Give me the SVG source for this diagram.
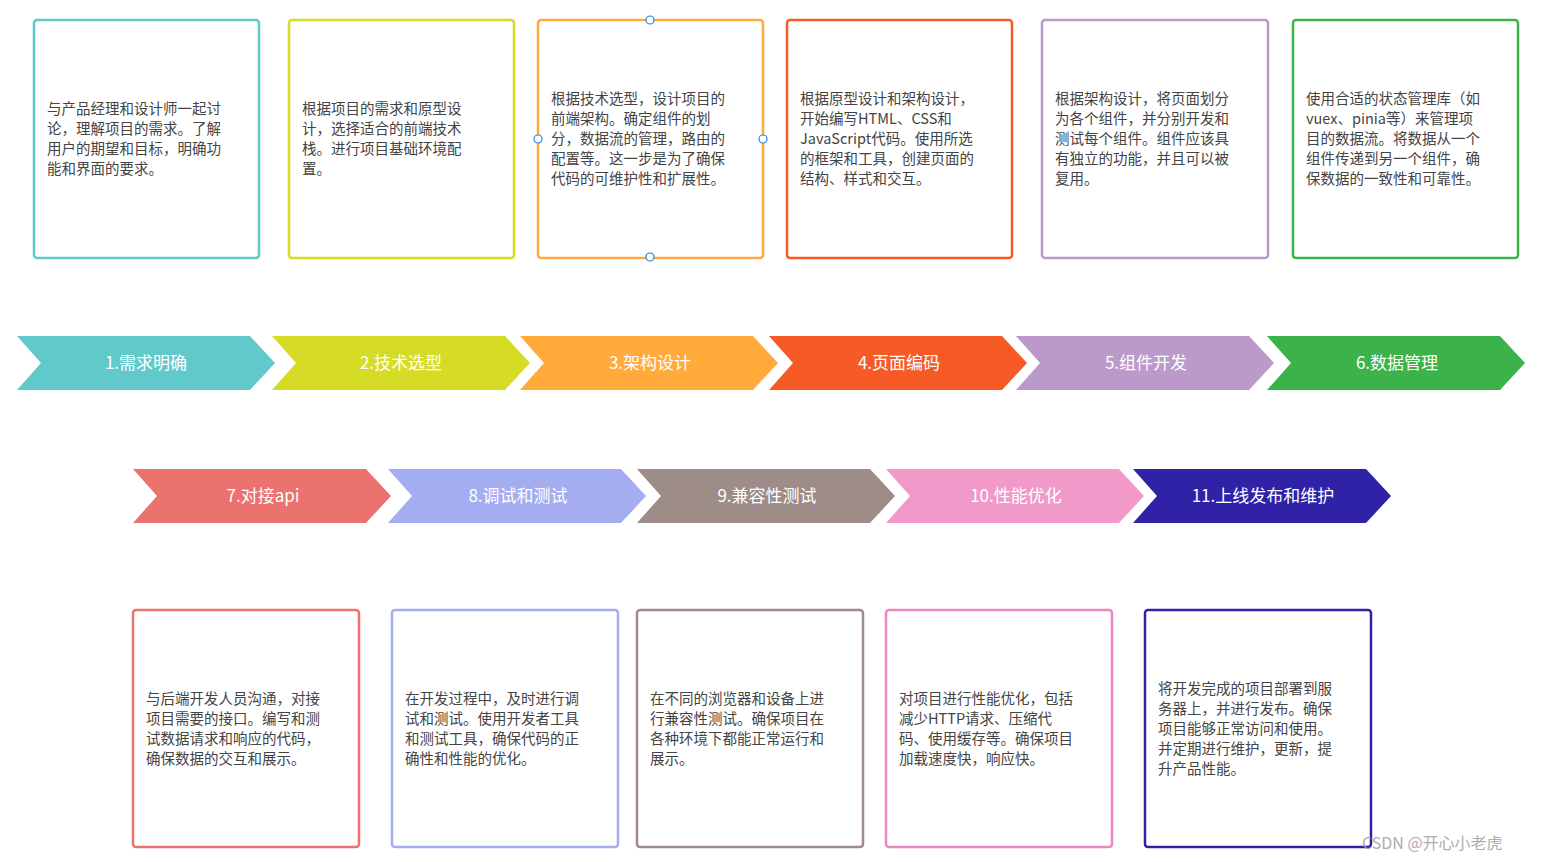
<svg xmlns="http://www.w3.org/2000/svg" width="1547" height="862" viewBox="0 0 1547 862">
<style>
.box{fill:#fff;stroke-width:2.5}
.t{font-family:"Noto Sans CJK SC","Liberation Sans",sans-serif;font-size:14.5px;fill:#444}
.c{font-family:"Noto Sans CJK SC","Liberation Sans",sans-serif;font-size:17px;fill:#fff;text-anchor:middle}
.h{fill:#fff;stroke:#1e88e5;stroke-width:1.2}
</style>
<defs><path id="chev" d="M0,0 H233 L258,27 L233,54 H0 L24,27 Z"/></defs>
<rect width="1547" height="862" fill="#fff"/>
<g id="connectors"></g>
<g id="chevrons">
<g id="s1"><use href="#chev" x="17" y="336" fill="#62C9CB"/><text class="c" x="146" y="369">1.需求明确</text></g>
<g id="s2"><use href="#chev" x="272" y="336" fill="#D6DC26"/><text class="c" x="401" y="369">2.技术选型</text></g>
<g id="s3"><use href="#chev" x="520" y="336" fill="#FFAA3A"/><text class="c" x="650" y="369">3.架构设计</text></g>
<g id="s4"><use href="#chev" x="769" y="336" fill="#F65A25"/><text class="c" x="899" y="369">4.页面编码</text></g>
<g id="s5"><use href="#chev" x="1016" y="336" fill="#BB9ACA"/><text class="c" x="1146" y="369">5.组件开发</text></g>
<g id="s6"><use href="#chev" x="1267" y="336" fill="#3CB24A"/><text class="c" x="1397" y="369">6.数据管理</text></g>
<g id="s7"><use href="#chev" x="133" y="469" fill="#EC7270"/><text class="c" x="263" y="502">7.对接api</text></g>
<g id="s8"><use href="#chev" x="388" y="469" fill="#A4ADF0"/><text class="c" x="518" y="502">8.调试和测试</text></g>
<g id="s9"><use href="#chev" x="637" y="469" fill="#9E8C88"/><text class="c" x="767" y="502">9.兼容性测试</text></g>
<g id="s10"><use href="#chev" x="886" y="469" fill="#F19ACA"/><text class="c" x="1016" y="502">10.性能优化</text></g>
<g id="s11"><use href="#chev" x="1133" y="469" fill="#2F22A6"/><text class="c" x="1263" y="502">11.上线发布和维护</text></g>
</g>
<g id="b1"><rect class="box" x="34" y="20" width="225" height="238" rx="3" stroke="#62C9CB"/>
<text class="t" x="47" y="114"><tspan x="47">与产品经理和设计师一起讨</tspan><tspan x="47" dy="20">论，理解项目的需求。了解</tspan><tspan x="47" dy="20">用户的期望和目标，明确功</tspan><tspan x="47" dy="20">能和界面的要求。</tspan></text></g>
<g id="b2"><rect class="box" x="289" y="20" width="225" height="238" rx="3" stroke="#D6DC26"/>
<text class="t" x="302" y="114"><tspan x="302">根据项目的需求和原型设</tspan><tspan x="302" dy="20">计，选择适合的前端技术</tspan><tspan x="302" dy="20">栈。进行项目基础环境配</tspan><tspan x="302" dy="20">置。</tspan></text></g>
<g id="b3"><rect class="box" x="538" y="20" width="225" height="238" rx="3" stroke="#FFAA3A"/>
<text class="t" x="551" y="104"><tspan x="551">根据技术选型，设计项目的</tspan><tspan x="551" dy="20">前端架构。确定组件的划</tspan><tspan x="551" dy="20">分，数据流的管理，路由的</tspan><tspan x="551" dy="20">配置等。这一步是为了确保</tspan><tspan x="551" dy="20">代码的可维护性和扩展性。</tspan></text>
<circle class="h" cx="650" cy="20" r="4"/><circle class="h" cx="650" cy="257" r="4"/><circle class="h" cx="538" cy="139" r="4"/><circle class="h" cx="763" cy="139" r="4"/></g>
<g id="b4"><rect class="box" x="787" y="20" width="225" height="238" rx="3" stroke="#F65A25"/>
<text class="t" x="800" y="104"><tspan x="800">根据原型设计和架构设计，</tspan><tspan x="800" dy="20">开始编写HTML、CSS和</tspan><tspan x="800" dy="20">JavaScript代码。使用所选</tspan><tspan x="800" dy="20">的框架和工具，创建页面的</tspan><tspan x="800" dy="20">结构、样式和交互。</tspan></text></g>
<g id="b5"><rect class="box" x="1042" y="20" width="226" height="238" rx="3" stroke="#BB9ACA"/>
<text class="t" x="1055" y="104"><tspan x="1055">根据架构设计，将页面划分</tspan><tspan x="1055" dy="20">为各个组件，并分别开发和</tspan><tspan x="1055" dy="20">测试每个组件。组件应该具</tspan><tspan x="1055" dy="20">有独立的功能，并且可以被</tspan><tspan x="1055" dy="20">复用。</tspan></text></g>
<g id="b6"><rect class="box" x="1293" y="20" width="225" height="238" rx="3" stroke="#3CB24A"/>
<text class="t" x="1306" y="104"><tspan x="1306">使用合适的状态管理库（如</tspan><tspan x="1306" dy="20">vuex、pinia等）来管理项</tspan><tspan x="1306" dy="20">目的数据流。将数据从一个</tspan><tspan x="1306" dy="20">组件传递到另一个组件，确</tspan><tspan x="1306" dy="20">保数据的一致性和可靠性。</tspan></text></g>
<g id="b7"><rect class="box" x="133" y="610" width="226" height="237" rx="3" stroke="#EC7270"/>
<text class="t" x="146" y="704"><tspan x="146">与后端开发人员沟通，对接</tspan><tspan x="146" dy="20">项目需要的接口。编写和测</tspan><tspan x="146" dy="20">试数据请求和响应的代码，</tspan><tspan x="146" dy="20">确保数据的交互和展示。</tspan></text></g>
<g id="b8"><rect class="box" x="392" y="610" width="226" height="237" rx="3" stroke="#A4ADF0"/>
<text class="t" x="405" y="704"><tspan x="405">在开发过程中，及时进行调</tspan><tspan x="405" dy="20">试和测试。使用开发者工具</tspan><tspan x="405" dy="20">和测试工具，确保代码的正</tspan><tspan x="405" dy="20">确性和性能的优化。</tspan></text></g>
<g id="b9"><rect class="box" x="637" y="610" width="226" height="237" rx="3" stroke="#9E8C88"/>
<text class="t" x="650" y="704"><tspan x="650">在不同的浏览器和设备上进</tspan><tspan x="650" dy="20">行兼容性测试。确保项目在</tspan><tspan x="650" dy="20">各种环境下都能正常运行和</tspan><tspan x="650" dy="20">展示。</tspan></text></g>
<g id="b10"><rect class="box" x="886" y="610" width="226" height="237" rx="3" stroke="#EE85C0"/>
<text class="t" x="899" y="704"><tspan x="899">对项目进行性能优化，包括</tspan><tspan x="899" dy="20">减少HTTP请求、压缩代</tspan><tspan x="899" dy="20">码、使用缓存等。确保项目</tspan><tspan x="899" dy="20">加载速度快，响应快。</tspan></text></g>
<g id="b11"><rect class="box" x="1145" y="610" width="226" height="237" rx="3" stroke="#2F22A6"/>
<text class="t" x="1158" y="694"><tspan x="1158">将开发完成的项目部署到服</tspan><tspan x="1158" dy="20">务器上，并进行发布。确保</tspan><tspan x="1158" dy="20">项目能够正常访问和使用。</tspan><tspan x="1158" dy="20">并定期进行维护，更新，提</tspan><tspan x="1158" dy="20">升产品性能。</tspan></text></g>
<text x="1362" y="849" font-family="Noto Sans CJK SC,Liberation Sans,sans-serif" font-size="16" fill="#999" opacity="0.8">CSDN @开心小老虎</text>
</svg>
